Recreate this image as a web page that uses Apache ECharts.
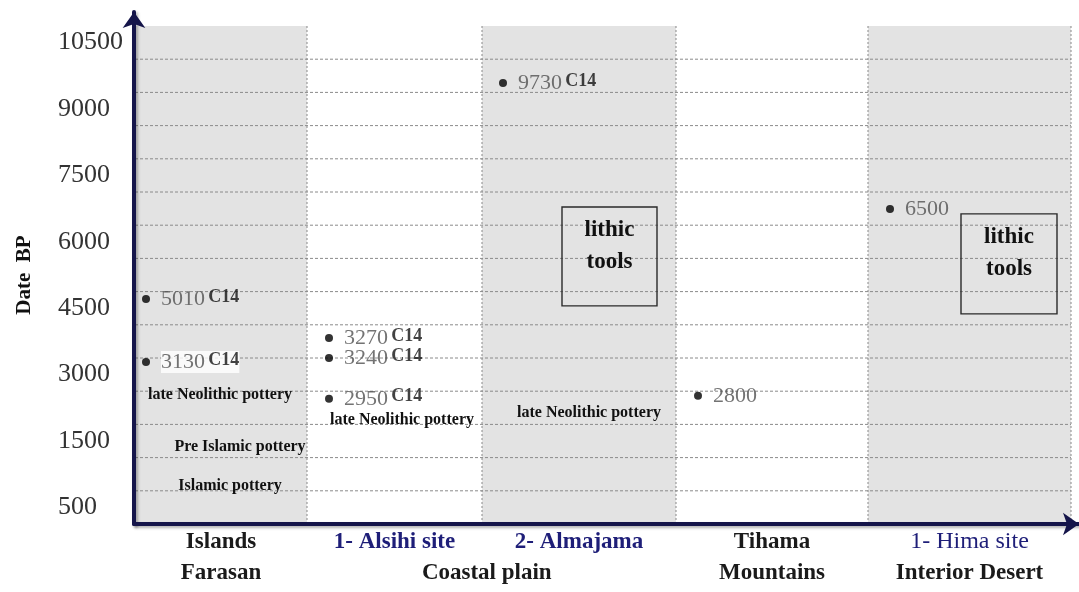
<!DOCTYPE html>
<html>
<head>
<meta charset="utf-8">
<script src="https://cdn.jsdelivr.net/npm/echarts@6/dist/echarts.min.js"></script>
<style>html,body{margin:0;padding:0;background:#fff}#c{width:1079px;height:592px}</style>
</head>
<body>
<div id="c"></div>
<script>
// ---------------- DATA ----------------
// Site columns (x categories), first line of the x labels
const sites = ['Islands', '1- Alsihi site', '2- Almajama', 'Tihama', '1- Hima site'];
// Region names (second line of the x labels) and the sites they span
const regions = ['Farasan', 'Coastal plain', 'Mountains', 'Interior Desert'];
const regionFirstSite = [0, 1, 3, 4];
const regionLastSite = [0, 2, 3, 4];
// Y tick labels (one per band, from bottom to top)
const yTickLabels = ['500', '', '1500', '', '3000', '', '4500', '', '6000', '', '7500', '', '9000', '', '10500'];
// Dated points: site index, date label, plotted level (in bands), C14 tag
const dateSite = [0, 0, 1, 1, 1, 2, 3, 4];
const dateValue = ['5010', '3130', '3270', '3240', '2950', '9730', '2800', '6500'];
const dateLevel = [6.78, 4.88, 5.60, 5.00, 3.77, 13.28, 3.86, 9.49];
const dateC14 = [true, true, true, true, true, true, false, false];
// Text notes
const noteText = ['late Neolithic pottery', 'Pre Islamic pottery', 'Islamic pottery', 'late Neolithic pottery', 'late Neolithic pottery'];
const noteSite = [0, 0, 0, 1, 2];
const noteLevel = [3.89, 2.32, 1.14, 3.13, 3.34];
// Boxed notes
const boxText = ['lithic\ntools', 'lithic\ntools'];
const boxSite = [2, 4];
const boxTop = [9.55, 9.34];
const boxBottom = [6.57, 6.33];

// ---------------- LAYOUT / STYLE ----------------
const COL_W = [172, 175, 194, 192, 203];
const edges = [0];
COL_W.forEach(w => edges.push(edges[edges.length - 1] + w));
const TOTAL = edges[edges.length - 1];
const N_BANDS = yTickLabels.length;
const GREY_COLS = [0, 2, 4];
const DOT_INSET = [11, 22, 21, 22, 22];
const NOTE_X = [85, 105, 95, 95, 107];          // centre offsets within their column
const BOX_X = [[80, 175], [93, 189]];            // box left/right offsets within column
const SERIF = '"Liberation Serif","Times New Roman",serif';
const NAVY = '#1e1e78';
const AXIS = '#15154a';
const SITE_COLOR = ['#1a1a1a', NAVY, NAVY, '#1a1a1a', NAVY];
const SITE_WEIGHT = ['bold', 'bold', 'bold', 'bold', 'normal'];
const SITE_SIZE = [23, 23, 23, 23, 24];
const colCenter = i => (edges[i] + edges[i + 1]) / 2;

const axisLineStyle = {
  color: AXIS, width: 4,
  shadowColor: 'rgba(0,0,0,0.3)', shadowBlur: 3, shadowOffsetX: 2, shadowOffsetY: 2
};

const chart = echarts.init(document.getElementById('c'));

const dotData = dateValue.map((v, i) => {
  const s = dateSite[i];
  const fmt = dateC14[i] ? '{v|' + v + '} {c|C14}' : '{v|' + v + '}';
  const item = { value: [edges[s] + DOT_INSET[s], dateLevel[i]], label: { formatter: fmt } };
  if (i === 1) item.label.backgroundColor = '#ffffff';
  return item;
});

const option = {
  animation: false,
  backgroundColor: '#ffffff',
  grid: [
    { left: 135, top: 26, width: TOTAL, height: 498 },
    { left: 134, top: 12, right: 0, bottom: 68 }
  ],
  xAxis: [
    { type: 'value', gridIndex: 0, min: 0, max: TOTAL, show: false },
    {
      type: 'value', gridIndex: 1, min: 0, max: 1, position: 'bottom', z: 20,
      axisLine: { show: true, onZero: false, symbol: ['none', 'arrow'], symbolSize: [17, 16], lineStyle: axisLineStyle },
      axisTick: { show: false }, axisLabel: { show: false }, splitLine: { show: false }
    }
  ],
  yAxis: [
    { type: 'value', gridIndex: 0, min: 0, max: N_BANDS, show: false },
    {
      type: 'category', gridIndex: 0, position: 'left', data: yTickLabels, boundaryGap: true,
      axisLine: { show: false }, axisTick: { show: false }, splitLine: { show: false },
      axisLabel: { interval: 0, align: 'left', margin: 77, fontSize: 26, fontFamily: SERIF, color: '#333' },
      name: 'Date  BP', nameLocation: 'middle', nameRotate: 90, nameGap: 100,
      nameTextStyle: { fontFamily: SERIF, fontWeight: 'bold', fontSize: 21, color: '#111' }
    },
    {
      type: 'value', gridIndex: 1, min: 0, max: 1, position: 'left', z: 20,
      axisLine: { show: true, onZero: false, symbol: ['none', 'arrow'], symbolSize: [17, 16], lineStyle: axisLineStyle },
      axisTick: { show: false }, axisLabel: { show: false }, splitLine: { show: false }
    }
  ],
  series: [
    { // grey columns
      type: 'custom', xAxisIndex: 0, yAxisIndex: 0, z: 1, silent: true,
      data: GREY_COLS.map(i => [i, 0]),
      renderItem: (p, api) => {
        const i = api.value(0);
        const a = api.coord([edges[i], N_BANDS]);
        const b = api.coord([edges[i + 1], 0]);
        return { type: 'rect', shape: { x: a[0], y: a[1], width: b[0] - a[0], height: b[1] - a[1] }, style: { fill: '#e3e3e3' } };
      }
    },
    { // horizontal dotted lines
      type: 'custom', xAxisIndex: 0, yAxisIndex: 0, z: 2, silent: true,
      data: yTickLabels.slice(1).map((t, k) => [0, k + 1]),
      renderItem: (p, api) => {
        const v = api.value(1);
        const a = api.coord([0, v]);
        const b = api.coord([TOTAL, v]);
        return { type: 'line', shape: { x1: a[0], y1: a[1], x2: b[0], y2: b[1] }, style: { stroke: '#8a8a8a', lineWidth: 1, lineDash: [3, 2] } };
      }
    },
    { // vertical dotted lines
      type: 'custom', xAxisIndex: 0, yAxisIndex: 0, z: 2, silent: true,
      data: edges.slice(1).map(e => [e, 0]),
      renderItem: (p, api) => {
        const e = api.value(0);
        const a = api.coord([e, 0]);
        const b = api.coord([e, N_BANDS]);
        return { type: 'line', shape: { x1: a[0], y1: a[1], x2: b[0], y2: b[1] }, style: { stroke: '#8a8a8a', lineWidth: 1, lineDash: [2, 2] } };
      }
    },
    { // boxed notes
      type: 'custom', xAxisIndex: 0, yAxisIndex: 0, z: 3, silent: true,
      data: boxText.map((t, i) => [i, 0]),
      renderItem: (p, api) => {
        const i = api.value(0);
        const s = boxSite[i];
        const a = api.coord([edges[s] + BOX_X[i][0], boxTop[i]]);
        const b = api.coord([edges[s] + BOX_X[i][1], boxBottom[i]]);
        return {
          type: 'group', children: [
            { type: 'rect', shape: { x: a[0], y: a[1], width: b[0] - a[0], height: b[1] - a[1] }, style: { fill: 'none', stroke: '#2a2a2a', lineWidth: 1.4 } },
            { type: 'text', x: (a[0] + b[0]) / 2, y: a[1] + 7, style: { text: boxText[i], font: 'bold 23px ' + SERIF, fill: '#111', align: 'center', verticalAlign: 'top', lineHeight: 32 } }
          ]
        };
      }
    },
    { // text notes
      type: 'custom', xAxisIndex: 0, yAxisIndex: 0, z: 4, silent: true,
      data: noteText.map((t, i) => [edges[noteSite[i]] + NOTE_X[i], noteLevel[i]]),
      renderItem: (p, api) => {
        const c = api.coord([api.value(0), api.value(1)]);
        return { type: 'text', x: c[0], y: c[1], style: { text: noteText[p.dataIndex], font: 'bold 16px ' + SERIF, fill: '#111', align: 'center', verticalAlign: 'middle' } };
      }
    },
    { // dated points
      type: 'scatter', xAxisIndex: 0, yAxisIndex: 0, z: 5,
      symbol: 'circle', symbolSize: 8, itemStyle: { color: '#000' },
      data: dotData,
      label: {
        show: true, position: 'right', distance: 11,
        rich: {
          v: { fontFamily: SERIF, fontSize: 22, color: '#505050' },
          c: { fontFamily: SERIF, fontSize: 18, fontWeight: 'bold', color: '#111', verticalAlign: 'top' }
        }
      }
    },
    { // x labels (site names and regions)
      type: 'custom', xAxisIndex: 0, yAxisIndex: 0, z: 6, silent: true, clip: false,
      data: sites.map((s, i) => [colCenter(i), 0]).concat(regions.map((r, k) => [(colCenter(regionFirstSite[k]) + colCenter(regionLastSite[k])) / 2, 1])),
      renderItem: (p, api) => {
        const idx = p.dataIndex;
        const c = api.coord([api.value(0), 0]);
        if (idx < sites.length) {
          return { type: 'text', x: c[0], y: c[1] + 18, style: { text: sites[idx], font: SITE_WEIGHT[idx] + ' ' + SITE_SIZE[idx] + 'px ' + SERIF, fill: SITE_COLOR[idx], align: 'center', verticalAlign: 'middle' } };
        }
        const k = idx - sites.length;
        return { type: 'text', x: c[0], y: c[1] + 49, style: { text: regions[k], font: 'bold 23px ' + SERIF, fill: '#1a1a1a', align: 'center', verticalAlign: 'middle' } };
      }
    }
  ]
};
chart.setOption(option);
</script>
</body>
</html>
